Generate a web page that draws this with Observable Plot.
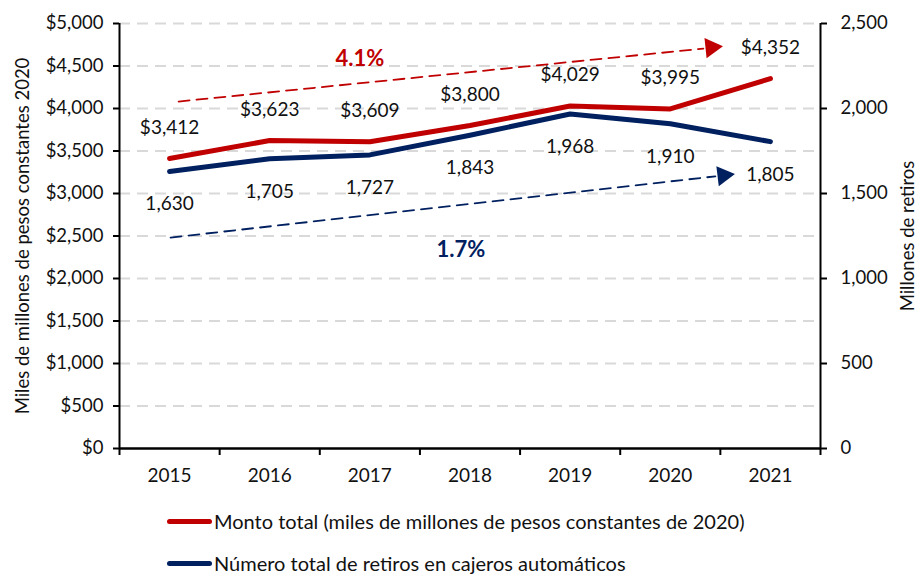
<!DOCTYPE html>
<html>
<head>
<meta charset="utf-8">
<script src="https://cdn.jsdelivr.net/npm/d3@7"></script>
<script src="https://cdn.jsdelivr.net/npm/@observablehq/plot@0.6"></script>
<style>
  html, body { margin: 0; padding: 0; background: #fff; }
  body { width: 919px; height: 574px; overflow: hidden; font-family: Lato, "Noto Sans", sans-serif; }
  #legend { position: relative; height: 84px; }
  .item { position: absolute; left: 167px; display: flex; align-items: center; font-size: 20px; line-height: 22px; color: #111; }
  .sw { width: 45px; height: 5px; border-radius: 3px; margin-right: 2px; }
</style>
</head>
<body>
<div id="chart"></div>
<div id="legend">
  <div class="item" style="top:20px"><div class="sw" style="background:#c00000"></div>Monto total (miles de millones de pesos constantes de 2020)</div>
  <div class="item" style="top:62px"><div class="sw" style="background:#002060"></div>Número total de retiros en cajeros automáticos</div>
</div>
<script>
const years = [2015, 2016, 2017, 2018, 2019, 2020, 2021];
const monto = [3412, 3623, 3609, 3800, 4029, 3995, 4352];
const retiros = [1630, 1705, 1727, 1843, 1968, 1910, 1805];
const leftTicks = [0, 500, 1000, 1500, 2000, 2500, 3000, 3500, 4000, 4500, 5000];
const rightTicks = [0, 500, 1000, 1500, 2000, 2500];
const bandEdges = [2014.5, 2015.5, 2016.5, 2017.5, 2018.5, 2019.5, 2020.5, 2021.5];
// trend arrows (year, value)
const trendMonto = [{x: 2015.09, y: 4082}, {x: 2020.33, y: 4705}];
const trendMontoHead = {x: 2020.41, y: 4718};
const trendMontoLabel = {x: 2016.9, y: 4580, label: "4.1%"};
const trendRetiros = [{x: 2015.01, y: 1241}, {x: 2020.45, y: 1601}];
const trendRetirosHead = {x: 2020.53, y: 1606};
const trendRetirosLabel = {x: 2017.91, y: 1170, label: "1.7%"};

const RED = "#c00000", BLUE = "#002060";
const rows = years.map((yr, i) => ({year: yr, monto: monto[i], retiros: retiros[i]}));
const k = 2; // right axis scale factor (2,500 ↔ $5,000)
const fmtMoney = d3.format("$,");
const fmtNum = d3.format(",");
const font = "Lato, 'Noto Sans', sans-serif";

const chart = Plot.plot({
  width: 919,
  height: 490,
  marginLeft: 119,
  marginRight: 99,
  marginTop: 23,
  marginBottom: 42,
  style: {fontFamily: font, fontSize: "18.5px", color: "#111", background: "#fff"},
  x: {domain: [2014.5, 2021.5]},
  y: {domain: [0, 5000]},
  marks: [
    Plot.ruleY(leftTicks.filter(d => d > 0), {stroke: "#d9d9d9", strokeWidth: 2, strokeDasharray: "11,7"}),
    Plot.axisY({ticks: leftTicks, tickFormat: fmtMoney, tickSize: 6, tickPadding: 10, stroke: "#000", strokeWidth: 2, fontSize: 18.5,
      label: "Miles de millones de pesos constantes 2020", labelAnchor: "center", labelArrow: "none", labelOffset: 104}),
    Plot.axisY({anchor: "right", ticks: rightTicks.map(d => d * k), tickFormat: d => fmtNum(d / k), tickSize: 6, tickPadding: 14, stroke: "#000", strokeWidth: 2, fontSize: 18.5,
      label: "Millones de retiros", labelAnchor: "center", labelArrow: "none", labelOffset: 93}),
    Plot.axisX({ticks: bandEdges, tickFormat: () => "", tickSize: 7, stroke: "#000", strokeWidth: 2, label: null}),
    Plot.axisX({ticks: years, tickFormat: d => String(d), tickSize: 0, tickPadding: 20, fontSize: 19, label: null}),
    Plot.ruleX([2014.5, 2021.5], {y1: 0, y2: 5000, stroke: "#000", strokeWidth: 2}),
    Plot.ruleY([0], {stroke: "#000", strokeWidth: 2.5}),
    // trends
    Plot.line(trendMonto, {x: "x", y: "y", stroke: RED, strokeWidth: 1.8, strokeDasharray: "11,7"}),
    Plot.dot([trendMontoHead], {x: "x", y: "y", symbol: "triangle", r: 7.5, fill: RED, rotate: 84}),
    Plot.text([trendMontoLabel], {x: "x", y: "y", text: "label", fill: RED, fontWeight: "bold", fontSize: 22}),
    Plot.line(trendRetiros, {x: "x", y: d => d.y * k, stroke: BLUE, strokeWidth: 1.8, strokeDasharray: "11,7"}),
    Plot.dot([trendRetirosHead], {x: "x", y: d => d.y * k, symbol: "triangle", r: 7.5, fill: BLUE, rotate: 83}),
    Plot.text([trendRetirosLabel], {x: "x", y: d => d.y * k, text: "label", fill: BLUE, fontWeight: "bold", fontSize: 22}),
    // series
    Plot.line(rows, {x: "year", y: d => d.retiros * k, stroke: BLUE, strokeWidth: 5, strokeLinecap: "round"}),
    Plot.line(rows, {x: "year", y: "monto", stroke: RED, strokeWidth: 5, strokeLinecap: "round"}),
    Plot.text(rows, {x: "year", y: "monto", text: d => fmtMoney(d.monto), dy: -31, fill: "#111", fontSize: 19}),
    Plot.text(rows, {x: "year", y: d => d.retiros * k, text: d => fmtNum(d.retiros), dy: 33, fill: "#111", fontSize: 19})
  ]
});
document.getElementById("chart").appendChild(chart);
</script>
</body>
</html>
